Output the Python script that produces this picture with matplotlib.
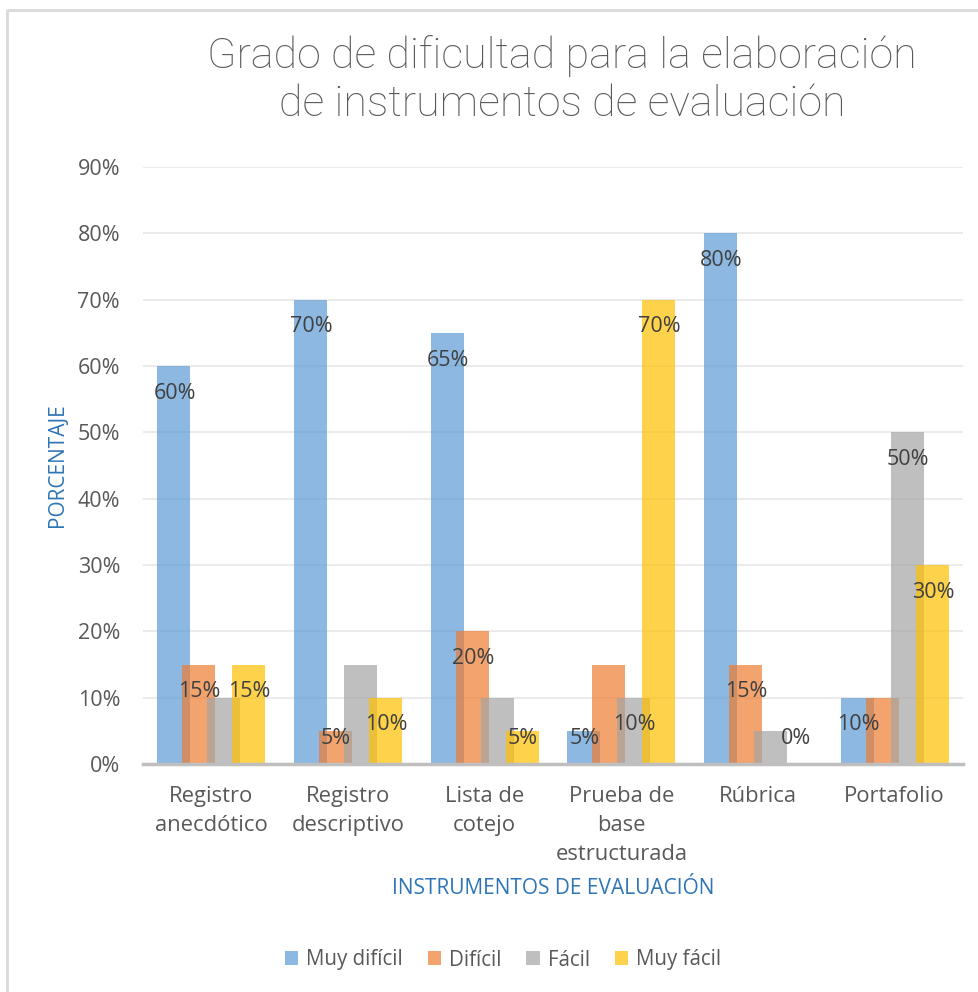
import matplotlib
matplotlib.use("Agg")
import matplotlib.pyplot as plt
import numpy as np
from matplotlib.lines import Line2D
from matplotlib.patches import Patch

categories = ["Registro\nanecdótico", "Registro\ndescriptivo", "Lista de\ncotejo",
              "Prueba de\nbase\nestructurada", "Rúbrica", "Portafolio"]
series_names = ["Muy difícil", "Difícil", "Fácil", "Muy fácil"]
muy_dificil = [0.60, 0.70, 0.65, 0.05, 0.80, 0.10]
dificil = [0.15, 0.05, 0.20, 0.15, 0.15, 0.10]
facil = [0.10, 0.15, 0.10, 0.10, 0.05, 0.50]
muy_facil = [0.15, 0.10, 0.05, 0.70, 0.00, 0.30]
# which data labels are visible in the original (others hidden by overlap)
show_muy_dificil = [True, True, True, True, True, True]
show_dificil = [True, True, True, False, True, False]
show_facil = [False, False, False, True, False, True]
show_muy_facil = [True, True, True, True, True, True]

series = [muy_dificil, dificil, facil, muy_facil]
shows = [show_muy_dificil, show_dificil, show_facil, show_muy_facil]
colors = ["#5B9BD5", "#ED7D31", "#A5A5A5", "#FFC000"]
yticks = [0.0, 0.1, 0.2, 0.3, 0.4, 0.5, 0.6, 0.7, 0.8, 0.9]

FONT = "Open Sans"
TFONT = "Roboto"
TXT = "#595959"
BLUE = "#2E75B6"

W, H = 979, 992
fig = plt.figure(figsize=(W / 100, H / 100), dpi=100)
fig.patch.set_facecolor("white")

ax_l, ax_r, ax_b, ax_t = 143, 963, 764, 167
ax = fig.add_axes([ax_l / W, 1 - ax_b / H, (ax_r - ax_l) / W, (ax_b - ax_t) / H])

x = np.arange(len(categories))
bw = 0.2414
step = 0.183
offsets = [-1.5 * step, -0.5 * step, 0.5 * step, 1.5 * step]

for vals, col, off, shw in zip(series, colors, offsets, shows):
    ax.bar(x + off, vals, width=bw, color=col, alpha=0.7, linewidth=0, zorder=3)
    for xi, v, s in zip(x, vals, shw):
        if not s:
            continue
        ypos = v - 0.041
        ypos = max(ypos, 0.039)
        ax.text(xi + off + 0.005, ypos, f"{round(v*100)}%", ha="center", va="center",
                fontsize=15.5, color="#404040", family=FONT, zorder=5)

ax.set_xlim(-0.5, len(categories) - 0.5)
ax.set_ylim(0, 0.9)
ax.set_yticks(yticks)
ax.set_yticklabels([f"{int(round(t*100))}%" for t in yticks], fontsize=15.5,
                   color=TXT, family=FONT)
ax.set_xticks(x)
ax.set_xticklabels(categories, fontsize=15.8, color=TXT, family=FONT, linespacing=1.52,
                   va="top")
ax.tick_params(axis="both", length=0)
ax.tick_params(axis="y", pad=16.5)
ax.tick_params(axis="x", pad=15.5)
ax.grid(axis="y", color="#EBEBEB", linewidth=1.5, zorder=0)
ax.set_axisbelow(True)
for sp in ["top", "right", "left"]:
    ax.spines[sp].set_visible(False)
ax.spines["bottom"].set_color("#BFBFBF")
ax.spines["bottom"].set_linewidth(2.5)
ax.spines["bottom"].set_zorder(4)

fig.text(562 / W, 1 - 80 / H, "Grado de dificultad para la elaboración\nde instrumentos de evaluación",
         ha="center", va="center", fontsize=31, color=TXT, family=TFONT, fontweight="light",
         linespacing=1.2)
fig.text(553 / W, 1 - 889 / H, "INSTRUMENTOS DE EVALUACIÓN", ha="center", va="center",
         fontsize=15, color=BLUE, family=FONT)
fig.text(58 / W, 1 - 465 / H, "PORCENTAJE", ha="center", va="center", rotation=90,
         fontsize=15, color=BLUE, family=FONT)

handles = [Patch(facecolor=c, alpha=0.7, edgecolor="none") for c in colors]
fig.legend(handles, series_names, loc="center", bbox_to_anchor=(503 / W, 1 - 960 / H),
           ncol=4, frameon=False, prop={"family": FONT, "size": 14.8}, labelcolor=TXT,
           handlelength=0.65, handleheight=0.65, handletextpad=0.4, columnspacing=1.2)

# chart border (left and top visible)
fig.add_artist(Line2D([7.5 / W, 7.5 / W, 1.0], [0.0, 1 - 9.5 / H, 1 - 9.5 / H],
                      transform=fig.transFigure, color="#D9D9D9", linewidth=2))

fig.savefig("out.png", dpi=100, facecolor="white")
